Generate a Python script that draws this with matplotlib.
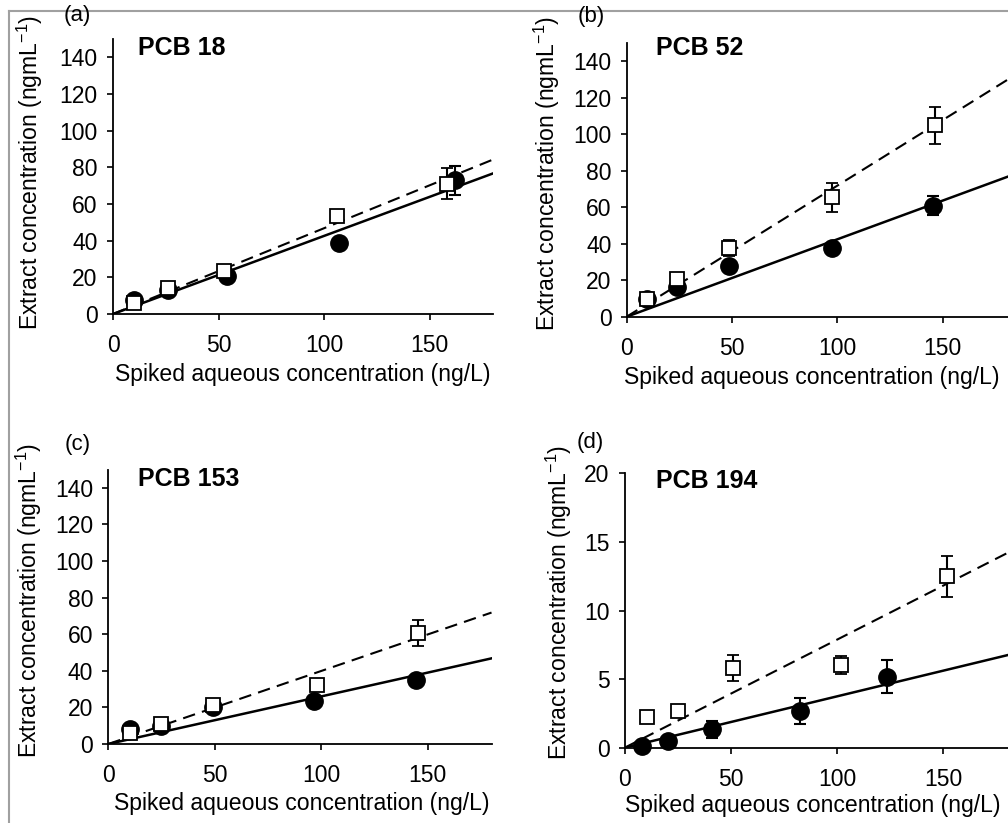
import matplotlib
matplotlib.use("Agg")
import matplotlib.pyplot as plt
import numpy as np

plt.rcParams['font.family'] = ['Liberation Sans', 'DejaVu Sans']
plt.rcParams['mathtext.fontset'] = 'custom'
plt.rcParams['mathtext.rm'] = 'Liberation Sans'
plt.rcParams['mathtext.it'] = 'Liberation Sans:italic'
plt.rcParams['mathtext.bf'] = 'Liberation Sans:bold'

# ---------------- data ----------------
panel_letters = ["(a)", "(b)", "(c)", "(d)"]
panel_titles = ["PCB 18", "PCB 52", "PCB 153", "PCB 194"]

# filled circles (solid fit) and open squares (dashed fit)
circ_x_a = [10, 26, 54, 107, 162]
circ_y_a = [7.5, 13, 20.5, 39, 73]
circ_e_a = [1, 1, 1, 1.5, 8]
sq_x_a = [10, 26, 52.5, 106, 158]
sq_y_a = [5.8, 14.2, 23.2, 53.5, 71]
sq_e_a = [1, 1.5, 1.5, 2, 8.5]

circ_x_b = [9.5, 24, 48.7, 97.3, 145.5]
circ_y_b = [9.7, 16, 27.9, 37.6, 60.8]
circ_e_b = [1, 1.5, 2, 3, 5.3]
sq_x_b = [9.5, 24, 48.7, 97.5, 146.3]
sq_y_b = [9.5, 20.6, 37.6, 65.3, 104.8]
sq_e_b = [1.5, 3.5, 4.4, 7.7, 10.2]

circ_x_c = [10, 24.7, 49, 96.5, 144.5]
circ_y_c = [8, 9.8, 20.3, 23.5, 34.8]
circ_e_c = [1, 1, 1.5, 2, 2.5]
sq_x_c = [10, 24.7, 49.3, 97.9, 145.6]
sq_y_c = [6.2, 11.1, 21.3, 32.2, 60.8]
sq_e_c = [1, 1.5, 2, 3, 7]

circ_x_d = [8.3, 20.4, 41.3, 82.5, 123.7]
circ_y_d = [0.12, 0.49, 1.34, 2.67, 5.18]
circ_e_d = [0.15, 0.2, 0.6, 0.95, 1.2]
sq_x_d = [10.4, 25.1, 51, 101.8, 152]
sq_y_d = [2.25, 2.7, 5.8, 6.05, 12.5]
sq_e_d = [0.2, 0.25, 0.95, 0.65, 1.5]

# linear fits (slope through origin)
solid_slope = [0.426, 0.424, 0.26, 0.0374]
dashed_slope = [0.468, 0.718, 0.399, 0.0787]

y_max = [150, 150, 150, 20]
y_ticks = [np.arange(0, 141, 20), np.arange(0, 141, 20), np.arange(0, 141, 20), np.arange(0, 21, 5)]
x_ticks = [0, 50, 100, 150]
x_max = [180, 182, 180, 182]

# ---------------- layout (pixels) ----------------
W, H = 1008, 823
fig = plt.figure(figsize=(W / 100, H / 100), dpi=100)

# left, right, top, bottom (px)
boxes = [(113, 113 + 180 * 2.111, 39, 314),
         (626.7, 626.7 + 182 * 2.107, 42.8, 316.7),
         (108.3, 108.3 + 180 * 2.129, 469.5, 744),
         (624.7, 624.7 + 182 * 2.122, 473.3, 747.7)]
ylabel_dx = [83, 80, 79, 66]
ylabel_up = [4.5, 6, 6.5, 8]
xlabel_fx = [0.4987, 0.482, 0.505, 0.487]
xlabel_dy = [60, 61, 59.5, 57.5]
letter_pos = [(77.5, 16), (591.5, 16.7), (78, 444), (590, 442.7)]
title_pos = [(138, 48), (655.7, 48.3), (138.3, 479.3), (655.7, 481)]

circ_x = [circ_x_a, circ_x_b, circ_x_c, circ_x_d]
circ_y = [circ_y_a, circ_y_b, circ_y_c, circ_y_d]
circ_e = [circ_e_a, circ_e_b, circ_e_c, circ_e_d]
sq_x = [sq_x_a, sq_x_b, sq_x_c, sq_x_d]
sq_y = [sq_y_a, sq_y_b, sq_y_c, sq_y_d]
sq_e = [sq_e_a, sq_e_b, sq_e_c, sq_e_d]

for i in range(4):
    l, r, t, b = boxes[i]
    ax = fig.add_axes([l / W, 1 - b / H, (r - l) / W, (b - t) / H])
    ax.set_xlim(0, x_max[i])
    ax.set_ylim(0, y_max[i])
    for s in ['top', 'right']:
        ax.spines[s].set_visible(False)
    for s in ['left', 'bottom']:
        ax.spines[s].set_linewidth(1.3)
    ax.set_xticks(x_ticks)
    ax.set_yticks(y_ticks[i])
    ax.tick_params(direction='out', length=4, width=1.2, labelsize=16.5)
    ax.tick_params(axis='x', pad=10.5)
    ax.tick_params(axis='y', pad=7)

    xs = np.array([0, x_max[i]])
    ax.plot(xs, solid_slope[i] * xs, color='black', lw=1.8, zorder=2)
    ax.plot(xs, dashed_slope[i] * xs, color='black', lw=1.5, ls=(0, (6, 3.5)), zorder=2)

    ax.errorbar(circ_x[i], circ_y[i], yerr=circ_e[i], fmt='o', ms=12.5,
                color='black', mfc='black', mec='black', ecolor='black',
                elinewidth=1.5, capsize=4.5, capthick=1.5, zorder=3, clip_on=False)
    ax.errorbar(sq_x[i], sq_y[i], yerr=sq_e[i], fmt='s', ms=10,
                color='black', mfc='white', mec='black', mew=1.3, ecolor='black',
                elinewidth=1.5, capsize=4.5, capthick=1.5, zorder=4, clip_on=False)

    ax.set_xlabel('Spiked aqueous concentration (ng/L)', fontsize=16.6)
    ax.xaxis.set_label_coords(xlabel_fx[i], -xlabel_dy[i] / (b - t))
    ax.xaxis.label.set_va('center')
    ax.set_ylabel(r'Extract concentration (ngmL$^{-1}$)', fontsize=16.6)
    ax.yaxis.set_label_coords(-ylabel_dx[i] / (r - l), ((b - t) / 2 + ylabel_up[i]) / (b - t))
    ax.yaxis.label.set_va('center')

    lx, ly = letter_pos[i]
    fig.text(lx / W, 1 - ly / H, panel_letters[i], fontsize=16, ha='center', va='center')
    tx, ty = title_pos[i]
    fig.text(tx / W, 1 - ty / H, panel_titles[i], fontsize=18, fontweight='bold',
             ha='left', va='center')

# grey frame on left and top
fig.add_artist(plt.Line2D([9 / W, 9 / W], [0, 1 - 10.5 / H], color='#a0a0a0', lw=1.5))
fig.add_artist(plt.Line2D([9 / W, 1], [1 - 10.5 / H, 1 - 10.5 / H], color='#a0a0a0', lw=1.5))

fig.savefig('out.png', dpi=100)
